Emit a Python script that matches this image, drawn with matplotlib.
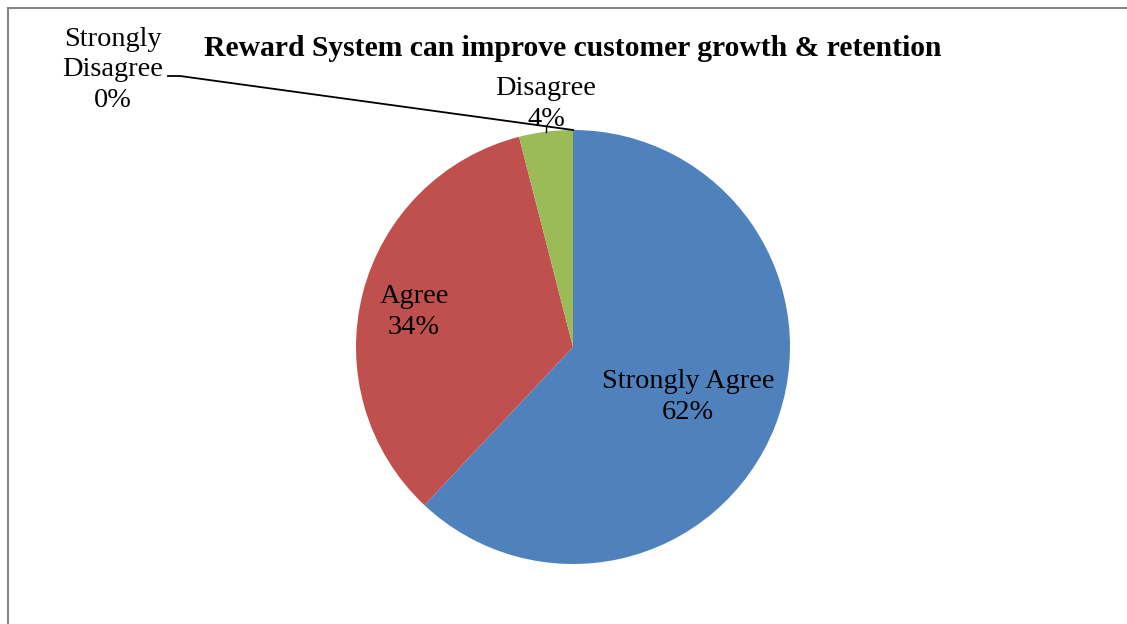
import numpy as np
import matplotlib
matplotlib.use('agg')
import matplotlib.pyplot as plt
from matplotlib.patches import Rectangle

# survey responses
categories = ['Strongly Agree', 'Agree', 'Disagree', 'Strongly Disagree']
percents = [62, 34, 4, 0]
colors = ['#4F81BD', '#C0504D', '#9BBB59', '#8064A2']
title = 'Reward System can improve customer growth & retention'

plt.rcParams['font.family'] = ['Liberation Serif', 'DejaVu Serif']

W, H = 1127, 624
fig = plt.figure(figsize=(W / 100, H / 100), dpi=100)
ax = fig.add_axes([0, 0, 1, 1])

cx, cy, r = 573, H - 347, 217
ax.pie(percents, colors=colors, startangle=90, counterclock=False,
       center=(cx, cy), radius=r, frame=True,
       wedgeprops={'linewidth': 0})
ax.set_xlim(0, W)
ax.set_ylim(0, H)
ax.axis('off')

# chart border (only top and left edges fall inside the image)
ax.add_patch(Rectangle((7.5, -20), W + 50, H - 7.5 + 20, fill=False,
                       edgecolor='#868686', linewidth=1.5))

ax.text(573, H - 48, title, ha='center', va='center', fontsize=21.3,
        fontweight='bold')

fs = 20.4
ls = 1.3
ax.text(688, H - 397, 'Strongly Agree\n62%', ha='center', va='center',
        fontsize=fs, linespacing=ls)
ax.text(414, H - 312, 'Agree\n34%', ha='center', va='center',
        fontsize=fs, linespacing=ls)
ax.text(546, H - 104, 'Disagree\n4%', ha='center', va='center',
        fontsize=fs, linespacing=ls)
ax.text(113, H - 70, 'Strongly\nDisagree\n0%', ha='center', va='center',
        fontsize=fs, linespacing=ls)

# leader lines to the slice positions
cum = np.cumsum([0] + percents) / sum(percents)
def edge_point(frac, scale=1.0):
    ang = np.deg2rad(90 - 360 * frac)
    return cx + r * scale * np.cos(ang), cy + r * scale * np.sin(ang)

sd_x, sd_y = edge_point(cum[3])
ax.plot([168, 180, sd_x], [H - 76, H - 76, sd_y], color='black', lw=1.3)

mid_dis = (cum[2] + cum[3]) / 2
dx, dy = edge_point(mid_dis)
ax.plot([dx, dx], [dy, dy + 5], color='black', lw=1.0)

fig.savefig('out.png', dpi=100)
